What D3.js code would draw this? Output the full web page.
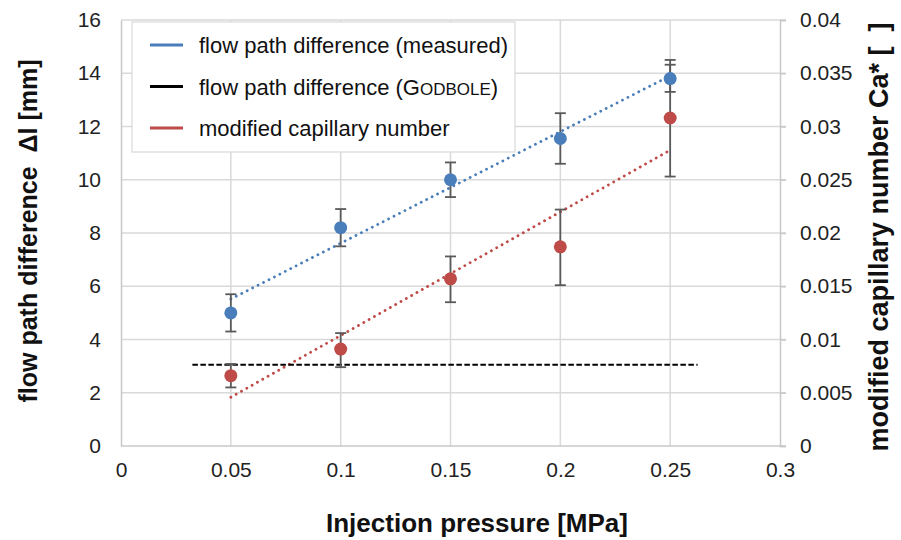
<!DOCTYPE html>
<html>
<head>
<meta charset="utf-8">
<script src="https://cdn.jsdelivr.net/npm/d3@7"></script>
<style>
  body { margin: 0; background: #fff; }
  svg { font-family: "Liberation Sans", Arial, sans-serif; }
</style>
</head>
<body>
<svg id="chart" width="901" height="540"></svg>
<script>
// injection pressure [MPa]
var pressure = [0.05, 0.1, 0.15, 0.2, 0.25];

// flow path difference (measured) [mm] with error bar ends
var measured     = [5.0, 8.2, 10.0, 11.55, 13.8];
var measuredHigh = [5.7, 8.9, 10.65, 12.5, 14.5];
var measuredLow  = [4.3, 7.5, 9.35, 10.6, 13.3];

// modified capillary number Ca* (right axis) with error bar ends
var capillary = [0.0066, 0.0091, 0.0157, 0.0187, 0.0308];
var capHigh   = [0.0077, 0.0106, 0.0178, 0.0222, 0.0358];
var capLow    = [0.0055, 0.0074, 0.0135, 0.0151, 0.0253];

// flow path difference after Godbole [mm], drawn over a pressure range
var godbole = 3.05;
var godboleRange = [0.0325, 0.2625];

var xTicks = [0, 0.05, 0.1, 0.15, 0.2, 0.25, 0.3];
var yTicks = [0, 2, 4, 6, 8, 10, 12, 14, 16];
var y2Ticks = [0, 0.005, 0.01, 0.015, 0.02, 0.025, 0.03, 0.035, 0.04];

var legendItems = ["measured", "godbole", "capillary"];

var blue = "#4a7ebb", red = "#be4b48", errColor = "#595959", gridColor = "#d9d9d9";

var svg = d3.select("#chart");
var plotLeft = 121, plotRight = 780, plotTop = 20, plotBottom = 446;

var x = d3.scaleLinear().domain([0, 0.3]).range([plotLeft, plotRight]);
var y = d3.scaleLinear().domain([0, 16]).range([plotBottom, plotTop]);
var y2 = d3.scaleLinear().domain([0, 0.04]).range([plotBottom, plotTop]);

// gridlines
svg.append("g").selectAll("line").data(yTicks.slice(1)).enter().append("line")
    .attr("x1", plotLeft).attr("x2", plotRight + 6)
    .attr("y1", function(d) { return y(d); }).attr("y2", function(d) { return y(d); })
    .attr("stroke", gridColor).attr("stroke-width", 1.5);
svg.append("g").selectAll("line").data(xTicks.slice(1, -1)).enter().append("line")
    .attr("x1", function(d) { return x(d); }).attr("x2", function(d) { return x(d); })
    .attr("y1", plotTop).attr("y2", plotBottom)
    .attr("stroke", gridColor).attr("stroke-width", 1.5);

// axes
var xAxis = svg.append("g").attr("transform", "translate(0," + plotBottom + ")")
    .call(d3.axisBottom(x).tickValues(xTicks).tickSize(0).tickPadding(16).tickFormat(d3.format("")));
var yAxis = svg.append("g").attr("transform", "translate(" + plotLeft + ",0)")
    .call(d3.axisLeft(y).tickValues(yTicks).tickSize(0).tickPadding(20).tickFormat(d3.format("")));
var y2Axis = svg.append("g").attr("transform", "translate(" + plotRight + ",0)")
    .call(d3.axisRight(y2).tickValues(y2Ticks).tickSize(6).tickPadding(14).tickFormat(d3.format("")));

[xAxis, yAxis, y2Axis].forEach(function(a) {
    a.attr("font-size", 21).attr("font-family", "Liberation Sans, Arial, sans-serif");
    a.select(".domain").attr("stroke", "#c8c8c8").attr("stroke-width", 1.5);
    a.selectAll(".tick line").attr("stroke", "#c8c8c8").attr("stroke-width", 1.5);
    a.selectAll(".tick text").attr("fill", "#222");
});
xAxis.select(".domain").attr("d", "M" + plotLeft + ",0H" + (plotRight + 6));

// trendlines (least squares fit, like the spreadsheet trendline)
function fit(xs, ys) {
    var mx = d3.mean(xs), my = d3.mean(ys);
    var sxy = d3.sum(xs, function(v, i) { return (v - mx) * (ys[i] - my); });
    var sxx = d3.sum(xs, function(v) { return (v - mx) * (v - mx); });
    var k = sxy / sxx;
    return function(v) { return my + k * (v - mx); };
}
var fitMeasured = fit(pressure, measured);
var fitCap = fit(pressure, capillary);
var xEnds = d3.extent(pressure);

svg.append("line")
    .attr("x1", x(xEnds[0])).attr("x2", x(xEnds[1]))
    .attr("y1", y(fitMeasured(xEnds[0]))).attr("y2", y(fitMeasured(xEnds[1])))
    .attr("stroke", blue).attr("stroke-width", 2.8)
    .attr("stroke-linecap", "round").attr("stroke-dasharray", "0.1 6");
svg.append("line")
    .attr("x1", x(xEnds[0])).attr("x2", x(xEnds[1]))
    .attr("y1", y2(fitCap(xEnds[0]))).attr("y2", y2(fitCap(xEnds[1])))
    .attr("stroke", red).attr("stroke-width", 2.8)
    .attr("stroke-linecap", "round").attr("stroke-dasharray", "0.1 6");

// Godbole reference
svg.append("line")
    .attr("x1", x(godboleRange[0])).attr("x2", x(godboleRange[1]))
    .attr("y1", y(godbole)).attr("y2", y(godbole))
    .attr("stroke", "#000").attr("stroke-width", 2).attr("stroke-dasharray", "5.5 2.5");

// error bars
function errorBars(lo, hi, scale) {
    var g = svg.append("g").attr("stroke", errColor).attr("stroke-width", 1.8);
    pressure.forEach(function(p, i) {
        g.append("line").attr("x1", x(p)).attr("x2", x(p))
            .attr("y1", scale(lo[i])).attr("y2", scale(hi[i]));
        [lo[i], hi[i]].forEach(function(v) {
            g.append("line").attr("x1", x(p) - 5.5).attr("x2", x(p) + 5.5)
                .attr("y1", scale(v)).attr("y2", scale(v));
        });
    });
}
errorBars(measuredLow, measuredHigh, y);
errorBars(capLow, capHigh, y2);

// markers
svg.append("g").selectAll("circle").data(measured).enter().append("circle")
    .attr("cx", function(d, i) { return x(pressure[i]); })
    .attr("cy", function(d) { return y(d); })
    .attr("r", 6.5).attr("fill", blue);
svg.append("g").selectAll("circle").data(capillary).enter().append("circle")
    .attr("cx", function(d, i) { return x(pressure[i]); })
    .attr("cy", function(d) { return y2(d); })
    .attr("r", 6.5).attr("fill", red);

// legend
var legend = svg.append("g");
legend.append("rect").attr("x", 132).attr("y", 22).attr("width", 383).attr("height", 130)
    .attr("fill", "#fff").attr("stroke", "#d9d9d9").attr("stroke-width", 1.2);
var legendColors = [blue, "#000", red];
legendItems.forEach(function(item, i) {
    var ly = 45 + i * 41.5;
    legend.append("line").attr("x1", 150).attr("x2", 183).attr("y1", ly).attr("y2", ly)
        .attr("stroke", legendColors[i]).attr("stroke-width", 3);
    var t = legend.append("text").attr("x", 199).attr("y", ly + 8)
        .attr("font-size", 22).attr("fill", "#111");
    if (item == "measured") t.text("flow path difference (measured)");
    else if (item == "capillary") t.text("modified capillary number");
    else {
        t.append("tspan").text("flow path difference (G");
        t.append("tspan").attr("font-size", 17).text("ODBOLE");
        t.append("tspan").text(")");
    }
});

// axis titles
svg.append("text").attr("x", 477).attr("y", 532).attr("text-anchor", "middle")
    .attr("font-size", 26).attr("font-weight", "bold").attr("fill", "#111")
    .text("Injection pressure [MPa]");
svg.append("text").attr("transform", "translate(37,231) rotate(-90)").attr("text-anchor", "middle")
    .attr("font-size", 25).attr("font-weight", "bold").attr("fill", "#111")
    .attr("xml:space", "preserve")
    .text("flow path difference  \u0394l [mm]");
svg.append("text").attr("transform", "translate(888,237) rotate(-90)").attr("text-anchor", "middle")
    .attr("font-size", 27).attr("font-weight", "bold").attr("fill", "#111")
    .attr("xml:space", "preserve")
    .text("modified capillary number Ca* [  ]");
</script>
</body>
</html>
